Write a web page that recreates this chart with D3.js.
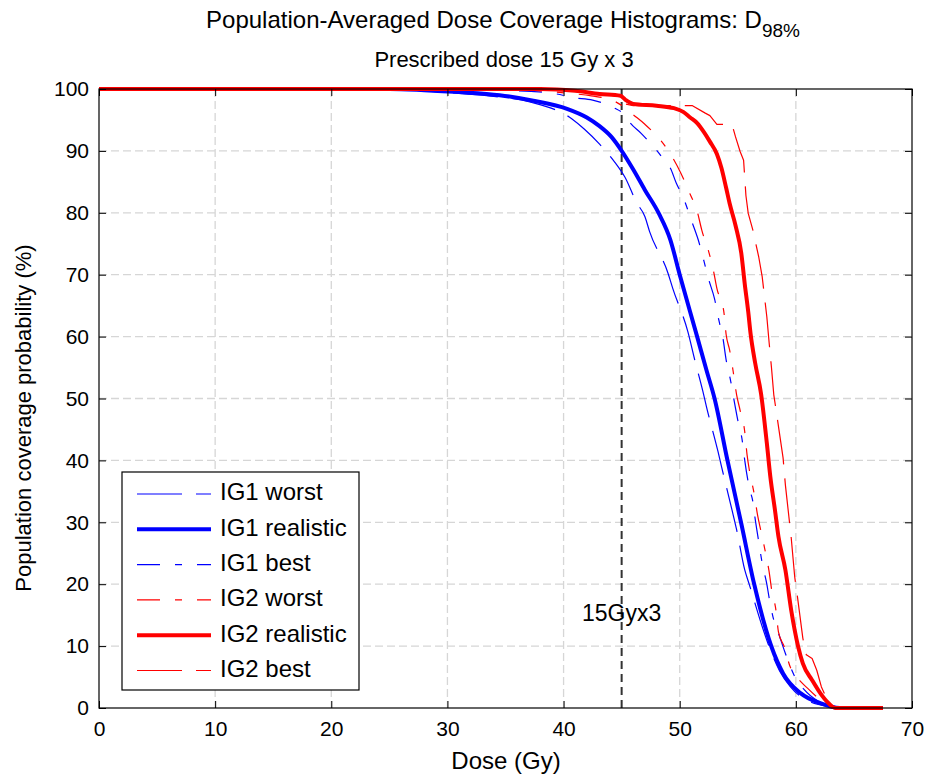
<!DOCTYPE html>
<html>
<head>
<meta charset="utf-8">
<script src="https://cdn.jsdelivr.net/npm/d3@7"></script>
<style>
  html, body { margin: 0; padding: 0; background: #fff; }
  svg { display: block; }
  text { font-family: "Liberation Sans", Arial, Helvetica, sans-serif; fill: #000; }
</style>
</head>
<body>
<svg id="chart" width="930" height="777"></svg>
<script>
// ---------------- data (dose Gy, coverage %) ----------------
const xTicks = [0, 10, 20, 30, 40, 50, 60, 70];
const yTicks = [0, 10, 20, 30, 40, 50, 60, 70, 80, 90, 100];

const ig1Worst = [[0,100],[25,100],[28,99.7],[31,99.3],[34,98.8],[37.1,97.9],[40.7,95.2],[41.8,93.5],[43.1,91.1],[44.4,88.2],[45.3,85.7],[46.3,81.6],[47.0,79.4],[47.4,77.0],[49.0,70.2],[49.4,67.8],[50.7,60.8],[51.3,56.2],[52.0,51.1],[52.3,48.7],[53.3,41.4],[53.6,39.0],[54.5,32.0],[54.9,28.8],[55.6,22.3],[56.0,19.9],[57.2,12.6],[57.8,9.4],[58.6,6.0],[59.5,3.5],[61,1.2],[63,0.2],[64,0],[67.5,0]];
const ig1Realistic = [[0,100],[25,100],[28,99.8],[31,99.5],[34.5,99.0],[37.4,98.1],[40.3,96.8],[42.0,95.4],[43.1,94.0],[44.1,92.3],[44.9,90.3],[46.0,87.0],[47.0,83.7],[48.2,79.9],[49.2,75.6],[50.0,70.0],[51.5,60.0],[52.3,54.6],[53.0,50.0],[54.1,40.1],[55.3,29.8],[56.4,20.1],[57.9,9.9],[58.9,5.6],[60.4,2.4],[62.1,0.8],[63.8,0],[67.5,0]];
const ig1Best = [[0,100],[30,100],[34,99.8],[37.2,99.6],[39.4,99.2],[40.8,98.6],[42.5,98.2],[44.3,97.0],[45.3,95.7],[45.7,94.6],[46.7,92.8],[48.0,90.1],[48.8,88.2],[49.2,87.2],[49.7,84.8],[50.3,82.5],[51.0,78.8],[51.6,75.6],[52.1,72.1],[52.5,69.2],[53.0,66.1],[53.4,62.4],[53.7,60.0],[54.0,56.2],[54.4,52.7],[54.7,49.5],[55.0,46.5],[55.4,43.0],[55.6,40.0],[56.0,35.5],[56.3,33.3],[56.5,30.5],[56.8,26.9],[57.1,23.4],[57.5,20.0],[57.7,17.8],[58.1,14.2],[58.5,12.1],[59.1,8.8],[59.9,5.1],[60.7,3.0],[62,1.0],[63,0.2],[64,0],[67.5,0]];
const ig2Worst = [[0,100],[35,100],[38,99.7],[40.5,99.3],[42.4,98.9],[44.3,98.1],[45.4,96.8],[45.9,96.0],[47.0,94.3],[48.4,91.6],[49.3,89.2],[50.1,86.4],[50.9,83.0],[51.5,80.3],[51.9,77.2],[52.5,73.7],[52.9,70.7],[53.2,67.8],[53.8,64.0],[54.0,60.3],[54.3,57.8],[54.6,54.4],[54.9,50.6],[55.2,48.1],[55.6,44.6],[55.8,40.9],[56.0,38.4],[56.4,34.7],[56.7,31.2],[57.0,28.5],[57.4,25.0],[57.7,22.0],[57.9,19.3],[58.3,15.6],[58.5,12.3],[59.0,9.9],[59.5,6.7],[60.0,5.2],[61,3.2],[62,1.5],[63,0.3],[64,0],[67.5,0]];
const ig2Realistic = [[0,100],[38,100],[41,99.7],[43.1,99.2],[44.9,98.9],[45.3,98.3],[46.0,97.6],[48.0,97.3],[49.5,96.9],[50.3,96.3],[50.9,95.4],[51.5,94.5],[52.1,93.0],[52.6,91.5],[53.2,89.5],[53.6,87.2],[54.0,84.0],[54.3,81.5],[54.8,78.0],[55.3,73.5],[55.6,68.5],[55.9,64.0],[56.1,60.5],[56.5,55.7],[57.0,50.8],[57.5,42.8],[57.8,37.4],[58.2,32.0],[58.5,27.7],[59.1,22.3],[59.6,15.8],[60.2,9.9],[60.6,7.2],[61.4,4.5],[62.1,2.4],[62.8,0.8],[63.4,0],[67.5,0]];
const ig2Best = [[0,100],[38,100],[41,99.6],[43,99.2],[44.8,98.8],[45.3,97.6],[46,97.3],[51.1,97.3],[52.2,96.1],[52.6,95.7],[53.2,94.3],[54.5,94.3],[54.8,92.3],[55.2,89.9],[55.5,88.5],[55.7,82.8],[55.9,79.9],[56.3,77.2],[56.8,72.9],[57.1,69.7],[57.5,63.2],[57.7,59.0],[57.9,55.0],[58.1,50.6],[58.3,48.1],[58.9,40.4],[59.1,36.0],[59.4,30.9],[59.6,27.5],[59.9,21.2],[60.1,18.5],[60.6,11.3],[60.9,8.6],[61.4,8.0],[61.8,6.1],[62.2,3.4],[62.7,1.3],[63.3,0],[67.5,0]];

const seriesNames = ["IG1 worst", "IG1 realistic", "IG1 best", "IG2 worst", "IG2 realistic", "IG2 best"];
const seriesData = [ig1Worst, ig1Realistic, ig1Best, ig2Worst, ig2Realistic, ig2Best];
const seriesColors = ["#0000ff", "#0000ff", "#0000ff", "#ff0000", "#ff0000", "#ff0000"];
const seriesWidths = [1.2, 4, 1.2, 1.2, 4, 1.2];
const seriesDash = ["45,14", null, "23,15,7,15", "23,15,7,15", null, "45,14"];
const seriesSmooth = [true, true, true, true, true, false];

const prescribedDose = 45;
const prescribedLabel = "15Gyx3";
const prescribedLabelY = 15;

// ---------------- layout ----------------
const svg = d3.select("#chart");
const L = 99, R = 912, T = 89, B = 708;
const x = d3.scaleLinear().domain([0, 70]).range([L, R]);
const y = d3.scaleLinear().domain([0, 100]).range([B, T]);

// grid
const grid = svg.append("g").attr("stroke", "#d6d6d6").attr("stroke-width", 1.3).attr("stroke-dasharray", "8,4");
grid.selectAll(".gx").data(xTicks.filter(t => t > 0 && t < 70)).join("line")
  .attr("x1", d => x(d)).attr("x2", d => x(d)).attr("y1", T).attr("y2", B);
grid.selectAll(".gy").data(yTicks.filter(t => t > 0 && t < 100)).join("line")
  .attr("y1", d => y(d)).attr("y2", d => y(d)).attr("x1", L).attr("x2", R);

// prescribed dose line
svg.append("line")
  .attr("x1", x(prescribedDose)).attr("x2", x(prescribedDose))
  .attr("y1", y(100)).attr("y2", y(0))
  .attr("stroke", "#333").attr("stroke-width", 2).attr("stroke-dasharray", "8,5");
svg.append("text")
  .attr("x", x(prescribedDose)).attr("y", y(prescribedLabelY))
  .attr("text-anchor", "middle").attr("dominant-baseline", "middle")
  .attr("font-size", 23).text(prescribedLabel);

// series
const lineSmooth = d3.line().curve(d3.curveMonotoneX).x(d => x(d[0])).y(d => y(d[1]));
const lineStraight = d3.line().x(d => x(d[0])).y(d => y(d[1]));
seriesData.forEach((data, i) => {
  svg.append("path")
    .datum(data)
    .attr("fill", "none")
    .attr("stroke", seriesColors[i])
    .attr("stroke-width", seriesWidths[i])
    .attr("stroke-linejoin", "round")
    .attr("stroke-dasharray", seriesDash[i])
    .attr("d", seriesSmooth[i] ? lineSmooth : lineStraight);
});

// axes
const tick = 7;
const axB = svg.append("g").attr("transform", `translate(0,${B})`)
  .call(d3.axisBottom(x).tickValues(xTicks).tickSizeInner(-tick).tickSizeOuter(0).tickPadding(tick + 6));
const axL = svg.append("g").attr("transform", `translate(${L},0)`)
  .call(d3.axisLeft(y).tickValues(yTicks).tickSizeInner(-tick).tickSizeOuter(0).tickPadding(tick + 3));
const axT = svg.append("g").attr("transform", `translate(0,${T})`)
  .call(d3.axisTop(x).tickValues(xTicks).tickSizeInner(-tick).tickSizeOuter(0).tickFormat(""));
const axR = svg.append("g").attr("transform", `translate(${R},0)`)
  .call(d3.axisRight(y).tickValues(yTicks).tickSizeInner(-tick).tickSizeOuter(0).tickFormat(""));
[axB, axL, axT, axR].forEach(a => {
  a.select(".domain").remove();
  a.selectAll("line").attr("stroke", "#000").attr("stroke-width", 1);
  a.selectAll("text").attr("font-size", 21).attr("font-family", "Liberation Sans, Arial, sans-serif").attr("fill", "#000");
});
svg.append("rect").attr("x", L).attr("y", T).attr("width", R - L).attr("height", B - T)
  .attr("fill", "none").attr("stroke", "#000").attr("stroke-width", 1.2);

// axis labels
svg.append("text").attr("x", 506).attr("y", 769).attr("text-anchor", "middle")
  .attr("font-size", 24).text("Dose (Gy)");
svg.append("text").attr("transform", `translate(31,418) rotate(-90)`)
  .attr("text-anchor", "middle").attr("font-size", 22).text("Population coverage probability  (%)");

// titles
const title = svg.append("text").attr("x", 503).attr("y", 28).attr("text-anchor", "middle").attr("font-size", 24);
title.append("tspan").text("Population-Averaged Dose Coverage Histograms: D");
title.append("tspan").attr("dy", 9).attr("font-size", 19).text("98%");
svg.append("text").attr("x", 504).attr("y", 67).attr("text-anchor", "middle")
  .attr("font-size", 22).text("Prescribed dose 15 Gy x 3");

// legend
const lg = svg.append("g");
lg.append("rect").attr("x", 122).attr("y", 472).attr("width", 237).attr("height", 218)
  .attr("fill", "#fff").attr("stroke", "#000").attr("stroke-width", 1.2);
seriesNames.forEach((name, i) => {
  const yy = 494 + i * 35.3;
  lg.append("line").attr("x1", 137).attr("x2", 211).attr("y1", yy).attr("y2", yy)
    .attr("stroke", seriesColors[i]).attr("stroke-width", seriesWidths[i])
    .attr("stroke-dasharray", seriesDash[i]);
  lg.append("text").attr("x", 220).attr("y", yy).attr("dominant-baseline", "middle")
    .attr("font-size", 24).text(name);
});
</script>
</body>
</html>
